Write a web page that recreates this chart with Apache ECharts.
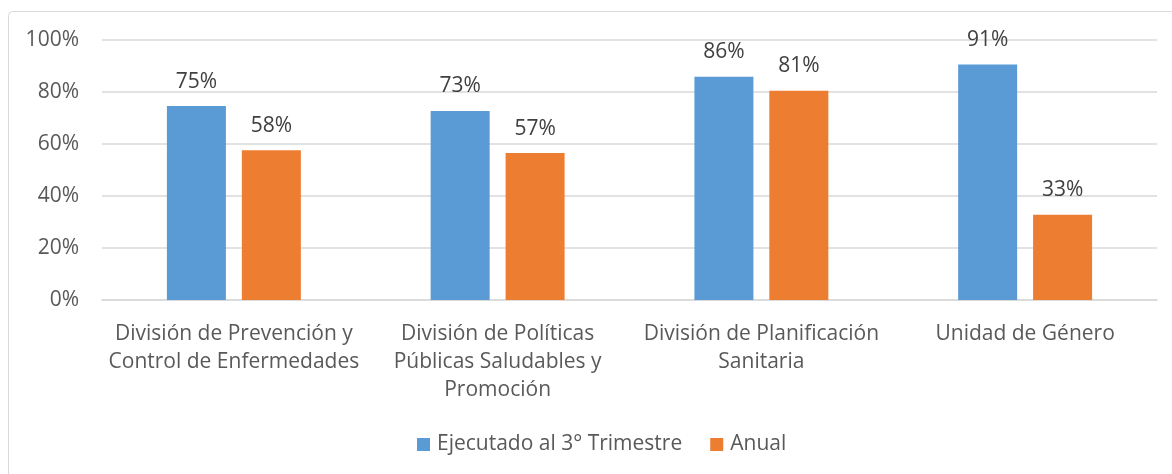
<!DOCTYPE html>
<html>
<head>
<meta charset="utf-8">
<script src="https://cdn.jsdelivr.net/npm/echarts@6/dist/echarts.min.js"></script>
<style>
  html, body { margin: 0; padding: 0; background: #fff; }
  #chart { width: 1172px; height: 474px; }
</style>
</head>
<body>
<div id="chart"></div>
<script>
// categorias y valores (en %)
var categorias = [
    'División de Prevención y\nControl de Enfermedades',
    'División de Políticas\nPúblicas Saludables y\nPromoción',
    'División de Planificación\nSanitaria',
    'Unidad de Género'
];
var ejecutado = [74.6, 72.7, 85.9, 90.6];
var anual = [57.6, 56.5, 80.5, 32.8];
var ticksY = [0, 20, 40, 60, 80, 100];

var fuente = '"Open Sans", "Noto Sans", sans-serif';

var myChart = echarts.init(document.getElementById('chart'));
var option = {
    animation: false,
    textStyle: { fontFamily: fuente },
    graphic: [{
        type: 'rect',
        shape: { x: 8.5, y: 11.5, width: 1200, height: 500, r: 4 },
        style: { fill: 'none', stroke: '#d9d9d9', lineWidth: 1 },
        silent: true
    }],
    legend: {
        bottom: 14,
        left: 412,
        itemWidth: 13,
        itemHeight: 13,
        itemGap: 28,
        icon: 'rect',
        textStyle: { fontFamily: fuente, fontSize: 21, color: '#595959', padding: [0, 0, 0, 2] },
        data: ['Ejecutado al 3° Trimestre', 'Anual']
    },
    grid: { left: 102, right: 15, top: 40, bottom: 174 },
    xAxis: {
        type: 'category',
        data: categorias,
        axisLine: { lineStyle: { color: '#d9d9d9', width: 1.5 } },
        axisTick: { show: false },
        axisLabel: {
            fontFamily: fuente, fontSize: 21, color: '#595959',
            lineHeight: 28, margin: 20, interval: 0
        }
    },
    yAxis: {
        type: 'value',
        min: ticksY[0],
        max: ticksY[ticksY.length - 1],
        interval: 20,
        axisLine: { show: false },
        axisTick: { show: false },
        splitLine: { lineStyle: { color: '#d9d9d9', width: 1.5 } },
        axisLabel: {
            fontFamily: fuente, fontSize: 21, color: '#595959', margin: 23,
            formatter: function (v) { return v + '%'; }
        }
    },
    series: [{
        name: 'Ejecutado al 3° Trimestre',
        type: 'bar',
        data: ejecutado,
        barWidth: 59,
        barGap: '27%',
        itemStyle: { color: '#5b9bd5' },
        label: {
            show: true, position: 'top', distance: 14,
            fontFamily: fuente, fontSize: 21, color: '#404040',
            formatter: function (p) { return Math.round(p.value) + '%'; }
        }
    }, {
        name: 'Anual',
        type: 'bar',
        data: anual,
        barWidth: 59,
        itemStyle: { color: '#ed7d31' },
        label: {
            show: true, position: 'top', distance: 14,
            fontFamily: fuente, fontSize: 21, color: '#404040',
            formatter: function (p) { return Math.round(p.value) + '%'; }
        }
    }]
};
myChart.setOption(option);
</script>
</body>
</html>
